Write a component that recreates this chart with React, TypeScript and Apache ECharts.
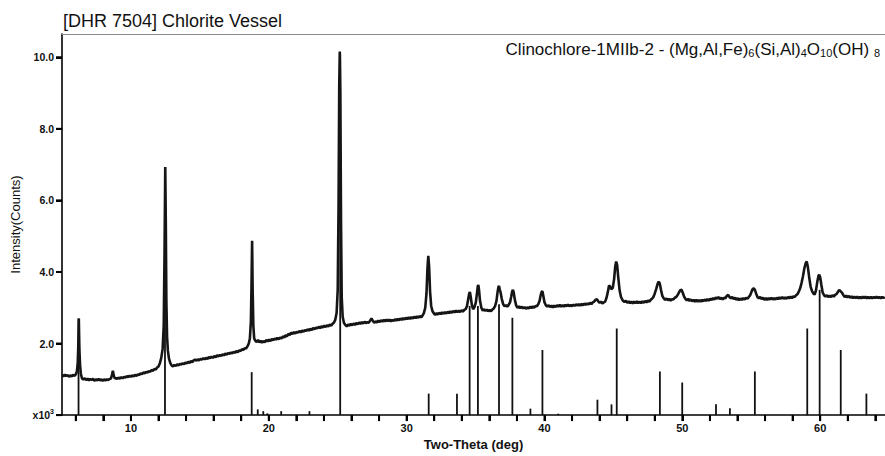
import React, { useEffect, useRef } from "react";
import * as echarts from "echarts";

const titleText = "[DHR 7504] Chlorite Vessel";
const xAxisName = "Two-Theta (deg)";
const yAxisName = "Intensity(Counts)";
const X_MIN = 5;
const X_MAX = 64.7;
const Y_MAX = 10.65;
const xTickValues = [6, 8, 10, 12, 14, 16, 18, 20, 22, 24, 26, 28, 30, 32, 34, 36, 38, 40, 42, 44, 46, 48, 50, 52, 54, 56, 58, 60, 62, 64];
const xLabelValues = [10, 20, 30, 40, 50, 60];
const yTickValues = [0, 2, 4, 6, 8, 10];

// measured pattern (Two-Theta deg, intensity x10^3 counts)
const pattern: [number, number][] = [
  [5.0,1.12],[5.1,1.08],[5.2,1.13],[5.3,1.09],[5.4,1.12],[5.5,1.07],[5.6,1.11],[5.7,1.08],[5.8,1.12],[5.9,1.10],
  [6.0,1.14],[6.08,1.22],[6.14,1.45],[6.18,1.9],[6.22,2.70],[6.26,1.85],[6.31,1.4],[6.37,1.15],[6.45,1.03],[6.55,0.99],
  [6.65,1.03],[6.75,0.98],[6.85,1.02],[6.95,0.97],[7.05,1.01],[7.15,0.98],[7.25,1.02],[7.35,0.96],[7.45,1.0],[7.55,0.97],
  [7.65,1.01],[7.75,0.97],[7.85,1.0],[7.95,0.96],[8.05,1.0],[8.15,0.97],[8.25,1.0],[8.35,0.98],[8.45,1.01],[8.55,1.02],
  [8.62,1.12],[8.69,1.24],[8.76,1.10],[8.84,1.02],[8.92,1.04],[9.0,1.01],[9.1,1.05],[9.2,1.02],[9.3,1.06],[9.4,1.03],
  [9.5,1.07],[9.6,1.05],[9.7,1.09],[9.8,1.06],[9.9,1.1],[10.0,1.07],[10.1,1.11],[10.2,1.08],[10.3,1.12],[10.4,1.1],
  [10.5,1.14],[10.6,1.12],[10.7,1.17],[10.8,1.14],[10.9,1.19],[11.0,1.17],[11.1,1.21],[11.2,1.19],[11.3,1.23],[11.4,1.21],
  [11.5,1.26],[11.6,1.24],[11.7,1.29],[11.8,1.27],[11.9,1.33],[12.0,1.36],[12.1,1.45],[12.2,1.6],[12.3,1.85],[12.38,2.5],
  [12.44,4.6],[12.49,6.93],[12.53,5.4],[12.57,3.2],[12.62,2.2],[12.68,1.8],[12.76,1.58],[12.86,1.45],[12.96,1.38],[13.05,1.36],
  [13.15,1.4],[13.25,1.37],[13.35,1.42],[13.45,1.39],[13.55,1.43],[13.65,1.41],[13.75,1.45],[13.85,1.42],[13.95,1.47],[14.05,1.44],
  [14.15,1.49],[14.25,1.46],[14.35,1.51],[14.45,1.48],[14.55,1.53],[14.65,1.55],[14.75,1.52],[14.85,1.56],[14.95,1.53],[15.05,1.57],
  [15.15,1.55],[15.25,1.59],[15.35,1.56],[15.45,1.6],[15.55,1.57],[15.65,1.62],[15.75,1.59],[15.85,1.63],[15.95,1.6],[16.05,1.65],
  [16.15,1.62],[16.25,1.67],[16.35,1.64],[16.45,1.68],[16.55,1.65],[16.65,1.7],[16.75,1.67],[16.85,1.72],[16.95,1.69],[17.05,1.73],
  [17.15,1.71],[17.25,1.75],[17.35,1.72],[17.45,1.77],[17.55,1.74],[17.65,1.79],[17.75,1.76],[17.85,1.81],[17.95,1.79],[18.05,1.84],
  [18.15,1.82],[18.25,1.87],[18.35,1.86],[18.45,1.92],[18.55,2.0],[18.63,2.15],[18.7,2.6],[18.75,3.7],[18.79,4.87],[18.83,3.5],
  [18.88,2.5],[18.94,2.15],[19.02,2.08],[19.12,2.04],[19.22,2.1],[19.32,2.03],[19.42,2.08],[19.52,2.02],[19.62,2.07],[19.72,2.04],
  [19.82,2.1],[19.92,2.06],[20.02,2.11],[20.12,2.07],[20.22,2.13],[20.32,2.09],[20.42,2.14],[20.52,2.11],[20.62,2.16],[20.72,2.12],
  [20.82,2.17],[20.92,2.14],[21.02,2.2],[21.12,2.17],[21.22,2.23],[21.32,2.2],[21.42,2.27],[21.52,2.24],[21.62,2.3],[21.72,2.27],
  [21.82,2.32],[21.92,2.28],[22.02,2.33],[22.12,2.3],[22.22,2.35],[22.32,2.31],[22.42,2.36],[22.52,2.33],[22.62,2.38],[22.72,2.35],
  [22.82,2.4],[22.92,2.36],[23.02,2.41],[23.12,2.38],[23.22,2.43],[23.32,2.4],[23.42,2.45],[23.52,2.42],[23.62,2.47],[23.72,2.43],
  [23.82,2.48],[23.92,2.45],[24.02,2.5],[24.12,2.46],[24.22,2.51],[24.32,2.48],[24.42,2.53],[24.52,2.5],[24.62,2.55],[24.72,2.58],
  [24.82,2.66],[24.92,2.85],[25.0,3.5],[25.06,5.8],[25.11,9.2],[25.15,10.16],[25.19,9.0],[25.24,5.4],[25.29,3.3],[25.36,2.75],
  [25.45,2.58],[25.55,2.52],[25.65,2.48],[25.75,2.53],[25.85,2.5],[25.95,2.55],[26.05,2.51],[26.15,2.56],[26.25,2.52],[26.35,2.57],
  [26.45,2.54],[26.55,2.59],[26.65,2.55],[26.75,2.6],[26.85,2.56],[26.95,2.61],[27.05,2.57],[27.15,2.6],[27.25,2.58],[27.35,2.64],
  [27.45,2.7],[27.55,2.63],[27.65,2.58],[27.75,2.62],[27.85,2.59],[27.95,2.64],[28.05,2.6],[28.15,2.65],[28.25,2.61],[28.35,2.66],
  [28.45,2.62],[28.55,2.67],[28.65,2.63],[28.75,2.67],[28.85,2.62],[28.95,2.66],[29.05,2.63],[29.15,2.68],[29.25,2.64],[29.35,2.69],
  [29.45,2.65],[29.55,2.7],[29.65,2.66],[29.75,2.71],[29.85,2.67],[29.95,2.72],[30.05,2.68],[30.15,2.73],[30.25,2.69],[30.35,2.74],
  [30.45,2.7],[30.55,2.75],[30.65,2.71],[30.75,2.76],[30.85,2.72],[30.95,2.77],[31.05,2.73],[31.15,2.78],[31.25,2.85],[31.35,3.0],
  [31.44,3.4],[31.51,4.1],[31.57,4.45],[31.63,4.15],[31.7,3.45],[31.78,3.05],[31.88,2.9],[31.98,2.84],[32.08,2.8],[32.18,2.85],
  [32.28,2.81],[32.38,2.86],[32.48,2.82],[32.58,2.87],[32.68,2.83],[32.78,2.88],[32.88,2.84],[32.98,2.89],[33.08,2.85],[33.18,2.9],
  [33.28,2.86],[33.38,2.91],[33.48,2.87],[33.58,2.92],[33.68,2.88],[33.78,2.92],[33.88,2.88],[33.98,2.93],[34.08,2.89],[34.18,2.94],
  [34.28,2.96],[34.38,3.05],[34.47,3.25],[34.54,3.4],[34.59,3.44],[34.65,3.3],[34.73,3.08],[34.82,2.96],[34.92,3.02],[35.02,3.15],
  [35.1,3.4],[35.16,3.6],[35.2,3.64],[35.25,3.5],[35.32,3.2],[35.42,3.0],[35.52,2.92],[35.62,2.96],[35.72,2.91],[35.82,2.95],
  [35.92,2.9],[36.02,2.94],[36.12,2.9],[36.22,2.95],[36.32,2.98],[36.42,3.05],[36.52,3.2],[36.6,3.45],[36.66,3.58],[36.7,3.61],
  [36.76,3.5],[36.82,3.42],[36.9,3.25],[37.0,3.1],[37.1,3.04],[37.2,3.07],[37.3,3.03],[37.4,3.08],[37.5,3.15],[37.58,3.3],
  [37.65,3.45],[37.71,3.5],[37.77,3.42],[37.85,3.22],[37.95,3.06],[38.05,3.0],[38.15,3.04],[38.25,2.99],[38.35,3.03],[38.45,2.98],
  [38.55,3.02],[38.65,2.97],[38.75,3.01],[38.85,2.98],[38.95,3.03],[39.05,2.99],[39.15,3.04],[39.25,3.0],[39.35,3.05],[39.45,3.04],
  [39.55,3.1],[39.65,3.2],[39.73,3.36],[39.8,3.45],[39.85,3.46],[39.92,3.32],[40.0,3.15],[40.1,3.07],[40.2,3.03],[40.3,3.07],
  [40.4,3.02],[40.5,3.06],[40.6,3.01],[40.7,3.06],[40.8,3.02],[40.9,3.07],[41.0,3.03],[41.1,3.08],[41.2,3.03],[41.3,3.07],
  [41.4,3.03],[41.5,3.08],[41.6,3.04],[41.7,3.09],[41.8,3.04],[41.9,3.08],[42.0,3.04],[42.1,3.09],[42.2,3.05],[42.3,3.1],
  [42.4,3.06],[42.5,3.1],[42.6,3.06],[42.7,3.11],[42.8,3.07],[42.9,3.12],[43.0,3.08],[43.1,3.12],[43.2,3.09],[43.3,3.14],
  [43.4,3.1],[43.5,3.15],[43.6,3.17],[43.7,3.22],[43.8,3.24],[43.9,3.18],[44.0,3.14],[44.1,3.17],[44.2,3.12],[44.3,3.15],
  [44.4,3.17],[44.5,3.28],[44.6,3.45],[44.68,3.62],[44.75,3.6],[44.85,3.52],[44.95,3.55],[45.05,3.8],[45.13,4.15],[45.2,4.29],
  [45.27,4.2],[45.35,3.85],[45.45,3.48],[45.55,3.3],[45.68,3.2],[45.8,3.16],[45.9,3.2],[46.0,3.14],[46.1,3.18],[46.2,3.13],
  [46.3,3.17],[46.4,3.12],[46.5,3.17],[46.6,3.13],[46.7,3.18],[46.8,3.13],[46.9,3.17],[47.0,3.13],[47.1,3.18],[47.2,3.14],
  [47.3,3.19],[47.4,3.15],[47.5,3.2],[47.6,3.17],[47.7,3.22],[47.8,3.25],[47.9,3.3],[48.0,3.4],[48.1,3.52],[48.2,3.66],
  [48.28,3.73],[48.36,3.68],[48.45,3.5],[48.55,3.33],[48.65,3.26],[48.75,3.22],[48.85,3.26],[48.95,3.21],[49.05,3.25],[49.15,3.2],
  [49.25,3.24],[49.35,3.23],[49.45,3.28],[49.55,3.3],[49.65,3.35],[49.75,3.42],[49.85,3.49],[49.94,3.5],[50.03,3.42],[50.12,3.32],
  [50.22,3.25],[50.32,3.21],[50.42,3.25],[50.52,3.19],[50.62,3.23],[50.72,3.18],[50.82,3.22],[50.92,3.17],[51.02,3.22],[51.12,3.17],
  [51.22,3.21],[51.32,3.17],[51.42,3.22],[51.52,3.18],[51.62,3.23],[51.72,3.19],[51.82,3.24],[51.92,3.2],[52.02,3.25],[52.12,3.22],
  [52.22,3.27],[52.32,3.23],[52.42,3.29],[52.52,3.25],[52.62,3.3],[52.72,3.24],[52.82,3.28],[52.92,3.23],[53.02,3.28],[53.12,3.26],
  [53.22,3.33],[53.32,3.36],[53.42,3.3],[53.52,3.26],[53.62,3.3],[53.72,3.24],[53.82,3.28],[53.92,3.22],[54.02,3.27],[54.12,3.21],
  [54.22,3.26],[54.32,3.22],[54.42,3.27],[54.52,3.23],[54.62,3.28],[54.72,3.25],[54.82,3.3],[54.92,3.35],[55.02,3.45],[55.1,3.52],
  [55.18,3.55],[55.26,3.5],[55.35,3.4],[55.45,3.3],[55.55,3.26],[55.65,3.3],[55.75,3.24],[55.85,3.28],[55.95,3.22],[56.05,3.27],
  [56.15,3.22],[56.25,3.27],[56.35,3.23],[56.45,3.28],[56.55,3.23],[56.65,3.27],[56.75,3.23],[56.85,3.28],[56.95,3.24],[57.05,3.29],
  [57.15,3.25],[57.25,3.3],[57.35,3.25],[57.45,3.29],[57.55,3.25],[57.65,3.3],[57.75,3.26],[57.85,3.31],[57.95,3.27],[58.05,3.32],
  [58.15,3.3],[58.25,3.35],[58.35,3.38],[58.45,3.45],[58.55,3.55],[58.65,3.7],[58.75,3.88],[58.85,4.1],[58.95,4.25],[59.02,4.29],
  [59.1,4.15],[59.2,3.85],[59.3,3.6],[59.4,3.47],[59.5,3.4],[59.6,3.37],[59.7,3.5],[59.8,3.75],[59.88,3.9],[59.93,3.92],
  [60.0,3.85],[60.08,3.65],[60.18,3.42],[60.28,3.35],[60.38,3.31],[60.48,3.35],[60.58,3.3],[60.68,3.34],[60.78,3.3],[60.88,3.35],
  [60.98,3.31],[61.08,3.36],[61.18,3.38],[61.28,3.44],[61.38,3.5],[61.48,3.46],[61.58,3.42],[61.68,3.35],[61.78,3.3],[61.88,3.34],
  [61.98,3.29],[62.08,3.33],[62.18,3.28],[62.28,3.32],[62.38,3.27],[62.48,3.31],[62.58,3.27],[62.68,3.31],[62.78,3.26],[62.88,3.3],
  [62.98,3.26],[63.08,3.31],[63.18,3.27],[63.28,3.31],[63.38,3.26],[63.48,3.3],[63.58,3.26],[63.68,3.3],[63.78,3.26],[63.88,3.3],
  [63.98,3.27],[64.08,3.31],[64.18,3.27],[64.28,3.3],[64.38,3.26],[64.48,3.3],[64.58,3.27],[64.68,3.3]
];

// reference stick pattern (Two-Theta deg, drawn height x10^3)
const sticks: [number, number][] = [
  [6.2, 2.7], [12.47, 6.9], [18.76, 1.2], [19.2, 0.16], [19.6, 0.11], [19.9, 0.05], [20.9, 0.11], [22.95, 0.11],
  [25.18, 10.1], [31.6, 0.6], [33.65, 0.6], [34.57, 3.05], [35.17, 3.05], [36.7, 3.1], [37.67, 2.72], [38.98, 0.18],
  [39.85, 1.82], [41.0, 0.04], [43.84, 0.43], [44.86, 0.3], [45.24, 2.42], [48.37, 1.22], [49.99, 0.91], [52.44, 0.3],
  [53.45, 0.19], [55.26, 1.22], [59.06, 2.42], [59.96, 3.5], [61.49, 1.82], [63.35, 0.6]
];

const FONT = "'Liberation Sans', Arial, Helvetica, sans-serif";

export default function App() {
  const ref = useRef<HTMLDivElement>(null);
  useEffect(() => {
    const chart = echarts.init(ref.current as HTMLDivElement, null, { renderer: "svg" });
    chart.setOption({
      animation: false,
      backgroundColor: "#ffffff",
      title: {
        text: titleText,
        left: 58,
        top: 7,
        textStyle: { fontFamily: FONT, fontSize: 18, fontWeight: "normal", color: "#111" },
      },
      grid: { left: 62, right: 0, top: 34, bottom: 36 },
      xAxis: [
        {
          type: "value",
          min: X_MIN,
          max: X_MAX,
          position: "bottom",
          name: xAxisName,
          nameLocation: "middle",
          nameGap: 20,
          nameTextStyle: { fontFamily: FONT, fontSize: 13, fontWeight: "bold", color: "#111" },
          axisLine: { show: true, onZero: false, lineStyle: { color: "#000", width: 1.6 } },
          axisTick: { show: true, customValues: xTickValues, length: 6, inside: false, lineStyle: { color: "#000", width: 2 } },
          axisLabel: { customValues: xLabelValues, margin: 7, fontFamily: FONT, fontSize: 11, fontWeight: "bold", color: "#111" },
          splitLine: { show: false },
        },
        {
          type: "value",
          min: X_MIN,
          max: X_MAX,
          position: "top",
          axisLine: { show: true, onZero: false, lineStyle: { color: "#8a8a8a", width: 1 } },
          axisTick: { show: false },
          axisLabel: { show: false },
          splitLine: { show: false },
        },
      ],
      yAxis: {
        type: "value",
        min: 0,
        max: Y_MAX,
        name: yAxisName,
        nameLocation: "middle",
        nameGap: 37,
        nameRotate: 90,
        nameTextStyle: { fontFamily: FONT, fontSize: 13, color: "#111" },
        axisLine: { show: true, lineStyle: { color: "#000", width: 1.6 } },
        axisTick: { show: true, customValues: yTickValues, length: 6, inside: false, lineStyle: { color: "#000", width: 2 } },
        axisLabel: {
          customValues: yTickValues,
          margin: 8,
          fontFamily: FONT,
          fontSize: 10.5,
          fontWeight: "bold",
          color: "#111",
          formatter: (v: number) => (v === 0 ? "{a|x10}{s|3}" : v.toFixed(1)),
          rich: {
            a: { fontFamily: FONT, fontSize: 10.5, fontWeight: "bold", color: "#111" },
            s: { fontFamily: FONT, fontSize: 7, fontWeight: "bold", color: "#111", verticalAlign: "top", lineHeight: 14 },
          },
        },
        splitLine: { show: false },
      },
      graphic: [
        {
          type: "text",
          right: 5,
          top: 41,
          style: {
            text: "{n|Clinochlore-1MIIb-2 - (Mg,Al,Fe)}{s|6}{n|(Si,Al)}{s|4}{n|O}{s|10}{n|(OH) }{s|8}",
            rich: {
              n: { fontFamily: FONT, fontSize: 17, fill: "#111", lineHeight: 20, verticalAlign: "bottom" },
              s: { fontFamily: FONT, fontSize: 11, fill: "#111", lineHeight: 10, verticalAlign: "bottom" },
            },
          },
        },
      ],
      series: [
        {
          type: "custom",
          name: "xticks",
          xAxisIndex: 0,
          clip: false,
          silent: true,
          data: xTickValues.map((v) => [v, 0]),
          encode: { x: 0, y: 1 },
          z: 10,
          renderItem: (params: any, api: any) => {
            const p = api.coord([api.value(0), 0]);
            return {
              type: "rect",
              shape: { x: p[0] - 1, y: p[1], width: 2, height: 6 },
              style: { fill: "#000" },
            };
          },
        },
        {
          type: "custom",
          name: "yticks",
          xAxisIndex: 0,
          clip: false,
          silent: true,
          data: yTickValues.map((v) => [X_MIN, v]),
          encode: { x: 0, y: 1 },
          z: 10,
          renderItem: (params: any, api: any) => {
            const p = api.coord([api.value(0), api.value(1)]);
            return {
              type: "rect",
              shape: { x: p[0] - 6, y: p[1] - 1, width: 6, height: 2 },
              style: { fill: "#000" },
            };
          },
        },
        {
          type: "custom",
          name: "sticks",
          xAxisIndex: 0,
          data: sticks,
          encode: { x: 0, y: 1 },
          z: 2,
          renderItem: (params: any, api: any) => {
            const top = api.coord([api.value(0), api.value(1)]);
            const base = api.coord([api.value(0), 0]);
            return {
              type: "line",
              shape: { x1: base[0], y1: base[1], x2: top[0], y2: top[1] },
              style: { stroke: "#111", lineWidth: 1.8 },
            };
          },
        },
        {
          type: "line",
          name: "pattern",
          xAxisIndex: 0,
          data: pattern,
          showSymbol: false,
          symbol: "none",
          z: 3,
          lineStyle: { color: "#151515", width: 2.6 },
        },
      ],
    });
    return () => chart.dispose();
  }, []);
  return <div ref={ref} style={{ position: "absolute", left: 0, top: 0, width: 885, height: 456 }} />;
}
